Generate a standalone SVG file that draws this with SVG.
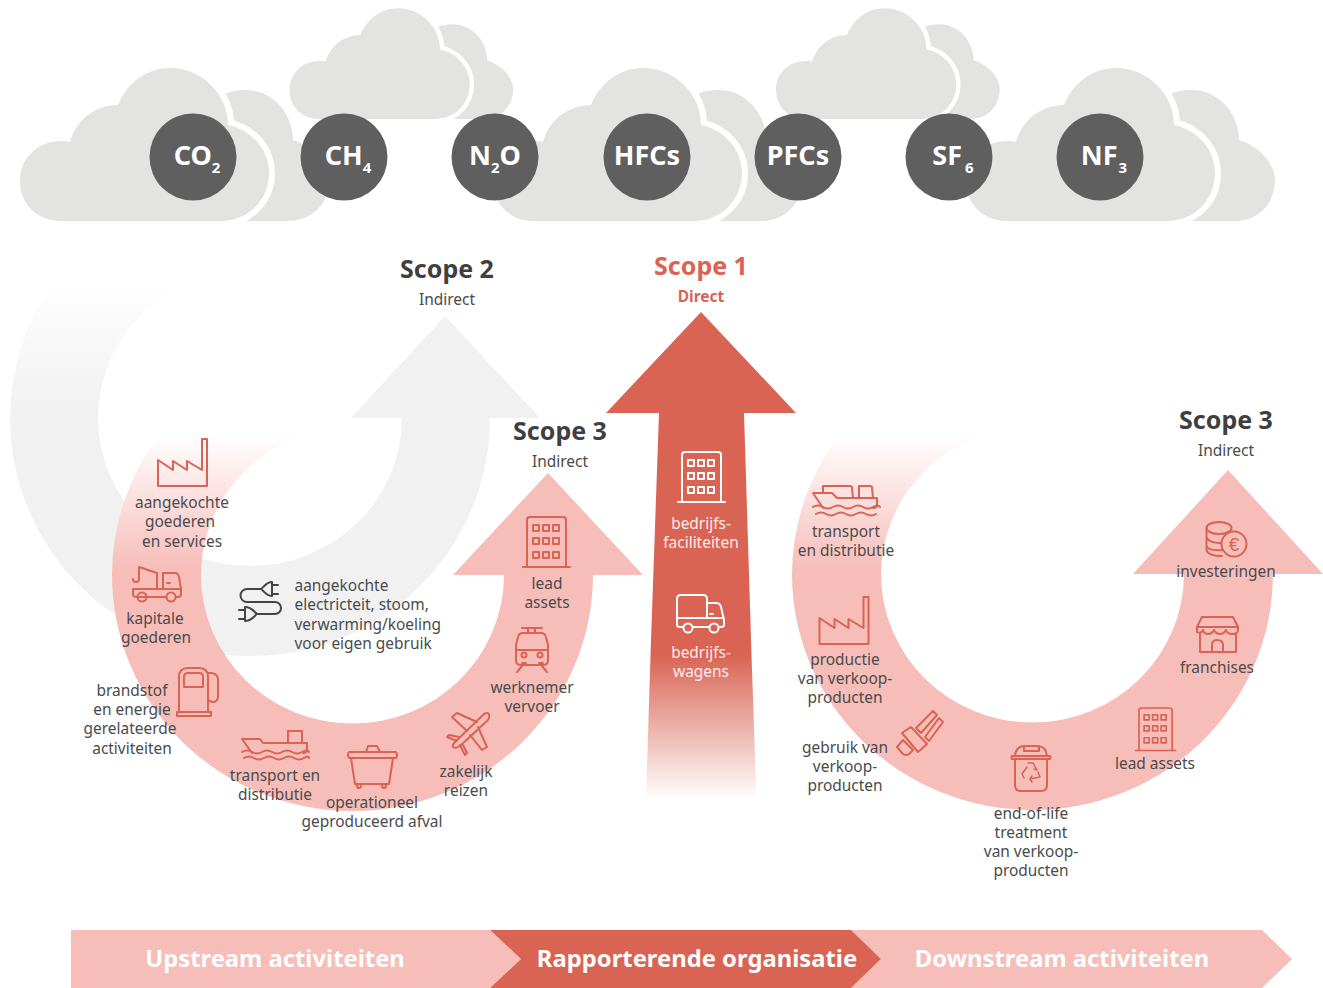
<svg xmlns="http://www.w3.org/2000/svg" xmlns:xlink="http://www.w3.org/1999/xlink" width="1323" height="988" viewBox="0 0 1323 988">
<style>
text{font-family:"Noto Sans","Open Sans","Liberation Sans",sans-serif}
.l{font-size:15.45px;fill:#4b4b4b;text-anchor:middle}
.ls{text-anchor:start}
.w{font-size:15.45px;fill:#fdecea;text-anchor:middle}
.h{font-size:25px;font-weight:700;fill:#3f3f3f;text-anchor:middle}
.sub{font-size:15.5px;fill:#4b4b4b;text-anchor:middle}
.gas{font-size:27px;font-weight:700;fill:#fff;text-anchor:middle}
.band{font-size:23.8px;font-weight:700;fill:#fff;text-anchor:middle}
.i{fill:none;stroke:#d96454;stroke-width:2;stroke-linejoin:round;stroke-linecap:round}
.iw{fill:none;stroke:#fff;stroke-width:2;stroke-linejoin:round;stroke-linecap:round}
.id{fill:none;stroke:#444;stroke-width:2;stroke-linejoin:round;stroke-linecap:round}
.cf{fill:#e3e3e2;stroke:#fff;stroke-width:12;paint-order:stroke}
.cb{fill:#e3e3e2}
.d{fill:#5f5f5f}
.p{fill:#f7bdb9}
.r{fill:#d96454}
</style>
<defs>
<linearGradient id="gGrey" gradientUnits="userSpaceOnUse" x1="0" y1="280" x2="0" y2="410"><stop offset="0" stop-color="#fff"/><stop offset="1" stop-color="#f1f1f1"/></linearGradient>
<linearGradient id="gPinkL" gradientUnits="userSpaceOnUse" x1="0" y1="435" x2="0" y2="570"><stop offset="0" stop-color="#fff"/><stop offset="1" stop-color="#f7bdb9"/></linearGradient>
<linearGradient id="gRed" gradientUnits="userSpaceOnUse" x1="0" y1="655" x2="0" y2="800"><stop offset="0" stop-color="#d96454"/><stop offset="1" stop-color="#fff"/></linearGradient>
<g id="cloud">
<path class="cb" d="M222,95C230,91 238,90 246,90C272,90 293,113 293,140C315,147 329,165 329,180C329,203 313,221 288,221L240,221Z"/>
<path class="cf" d="M61,221C37,221 20,204 20,181C20,158 38,141 61,141C64,141 67,141 70,142C76,120 95,105 118,105C127,83 146,68 170,68C202,68 228,94 228,125C252,130 269,150 269,173C269,200 248,221 221,221Z"/>
</g>
<g id="factory"><path d="M158,460L173,470V461L187,470V461L202,470V439H207V486H158Z"/></g>
<g id="building"><path d="M0,50V3Q0,0 3,0H36Q39,0 39,3V50M-4,50H43"/><path d="M6,8h6v6h-6zM16,8h6v6h-6zM26,8h6v6h-6zM6,21h6v6h-6zM16,21h6v6h-6zM26,21h6v6h-6zM6,35h6v6h-6zM16,35h6v6h-6zM26,35h6v6h-6z"/></g>
</defs>
<rect width="1323" height="988" fill="#fff"/>

<g id="clouds">
<use xlink:href="#cloud" href="#cloud"/>
<use xlink:href="#cloud" href="#cloud" transform="translate(275 -41) scale(.724)"/>
<use xlink:href="#cloud" href="#cloud" transform="translate(473 0)"/>
<use xlink:href="#cloud" href="#cloud" transform="translate(761.5 -41) scale(.724)"/>
<use xlink:href="#cloud" href="#cloud" transform="translate(946 0)"/>
</g>

<g id="gas-co2"><circle class="d" cx="193" cy="157" r="43.5"/><text class="gas" x="197" y="165">CO<tspan font-size="15" dy="8">2</tspan></text></g>
<g id="gas-ch4"><circle class="d" cx="344" cy="157" r="43.5"/><text class="gas" x="348" y="165">CH<tspan font-size="15" dy="8">4</tspan></text></g>
<g id="gas-n2o"><circle class="d" cx="495" cy="157" r="43.5"/><text class="gas" x="495" y="165">N<tspan font-size="15" dy="8">2</tspan><tspan dy="-8">O</tspan></text></g>
<g id="gas-hfcs"><circle class="d" cx="647" cy="157" r="43.5"/><text class="gas" x="647" y="165">HFCs</text></g>
<g id="gas-pfcs"><circle class="d" cx="798" cy="157" r="43.5"/><text class="gas" x="798" y="165">PFCs</text></g>
<g id="gas-sf6"><circle class="d" cx="949" cy="157" r="43.5"/><text class="gas" x="953" y="165">SF<tspan font-size="15" dy="8" dx="3">6</tspan></text></g>
<g id="gas-nf3"><circle class="d" cx="1100" cy="157" r="43.5"/><text class="gas" x="1104" y="165">NF<tspan font-size="15" dy="8" dx="1">3</tspan></text></g>

<g id="connectors">
<g id="arrow-scope2">
<path fill="url(#gGrey)" d="M10,418A240,238 0 0 1 55,280H195A152,148 0 0 0 98,418Z"/>
<path fill="#f1f1f1" d="M10,418A240,238 0 0 0 490,418H540L445,316L351,418H402A152,148 0 0 1 98,418Z"/>
</g>
<g id="arrow-scope3-up">
<path fill="url(#gPinkL)" d="M112,575A240.5,236 0 0 1 157.500,437H298A151,148 0 0 0 201,575Z"/>
<path class="p" d="M112,575A240.5,236 0 0 0 593,575H643L548,473L453,575H504A151,148 0 0 1 201,575Z"/>
</g>
<g id="arrow-scope1">
<path class="r" d="M701,312L796,413H744L751.500,655H650.500L659,413H606Z"/>
<path fill="url(#gRed)" d="M650.500,655H751.500L756.500,800H646Z"/>
</g>
<g id="arrow-scope3-down">
<path fill="url(#gPinkL)" d="M792,574A240.500,236 0 0 1 837.500,437H978A151,148 0 0 0 881,574Z"/>
<path class="p" d="M792,574A240.500,236 0 0 0 1273,574H1323L1228,470L1133,574H1184A151,148 0 0 1 881,574Z"/>
</g>
</g>

<g id="scope2-label"><text class="h" x="447" y="278">Scope 2</text><text class="sub" x="447" y="305">Indirect</text></g>
<g id="scope1-label"><text class="h" x="701" y="275" style="fill:#d96454">Scope 1</text><text class="sub" x="701" y="302" style="fill:#d96454;font-weight:700">Direct</text></g>
<g id="scope3-up-label"><text class="h" x="560" y="440">Scope 3</text><text class="sub" x="560" y="467">Indirect</text></g>
<g id="scope3-down-label"><text class="h" x="1226" y="429">Scope 3</text><text class="sub" x="1226" y="456">Indirect</text></g>

<g id="node-goederen"><use xlink:href="#factory" href="#factory" class="i"/>
<text class="l" x="182" y="508">aangekochte</text><text class="l" x="180" y="527">goederen</text><text class="l" x="182" y="547">en services</text></g>

<g id="node-kapitale"><g class="i"><path d="M147,597H137Q133,597 133,594V589H181V594Q181,597 178,597H176M166,597H147M157,589V573L139,567V579Q139,582 136,582Q133,582 133,579M163,589V573H175Q178,573 179,577L181,589"/><circle cx="142" cy="597" r="4.5"/><circle cx="171" cy="597" r="4.5"/><path d="M167,583h3"/></g>
<text class="l" x="155" y="624">kapitale</text><text class="l" x="156" y="643">goederen</text></g>

<g id="node-brandstof"><g class="i"><path d="M179,712V677Q179,668 188,668H199Q208,668 208,677V712M177,712H211V716H177ZM184,687V677Q184,673 188,673H199Q203,673 203,677V687ZM208,673H212Q218,674 218,680V696Q218,702 213,702Q209,702 208,699"/></g>
<text class="l" x="132" y="696">brandstof</text><text class="l" x="132" y="715">en energie</text><text class="l" x="130" y="734">gerelateerde</text><text class="l" x="132" y="754">activiteiten</text></g>

<g id="node-transport-up"><g class="i"><path d="M252,753L242,739H260L263,743H307V750Q307,753 303,753M288,743V731H302V743"/><path d="M242,752Q247,749 252,752T262,752T272,752T282,752T292,752T302,752T309,752M244,758Q249,755 254,758T264,758T274,758T284,758T294,758T304,758T309,758"/></g>
<text class="l" x="275" y="781">transport en</text><text class="l" x="275" y="800">distributie</text></g>

<g id="node-afval"><g class="i"><path d="M349,752H396Q398,755 396,758H349Q347,755 349,752ZM366,752L368,746H377L380,752M351,758L355,784H389L393,758"/><circle cx="359" cy="786" r="2"/><circle cx="384" cy="786" r="2"/></g>
<text class="l" x="372" y="808">operationeel</text><text class="l" x="372" y="827">geproduceerd afval</text></g>

<g id="node-reizen"><g class="i"><path d="M455,742L484,714Q488,712 489,714Q490,717 488,720L460,746Q455,749 453,747Q452,745 455,742ZM467,731L452,717L457,713L477,722M478,727L487,747L482,750L470,735M457,741L447,737L449,735L459,737M460,745L465,755L467,753L463,745"/></g>
<text class="l" x="466" y="777">zakelijk</text><text class="l" x="466" y="796">reizen</text></g>

<g id="node-vervoer"><g class="i"><path d="M516,645L518,637Q519,633 523,633H541Q545,633 546,637L548,645V660Q548,665 543,665H521Q516,665 516,660ZM516,650H548M522,628H542M528,628V633M535,628V633M522,666L517,672M542,666L547,672M522,663h4M539,663h4"/><circle cx="524" cy="655" r="2.5"/><circle cx="540" cy="655" r="2.5"/></g>
<text class="l" x="532" y="693">werknemer</text><text class="l" x="532" y="712">vervoer</text></g>

<g id="node-lead-up"><use xlink:href="#building" href="#building" class="i" transform="translate(527 517)"/>
<text class="l" x="547" y="589">lead</text><text class="l" x="547" y="608">assets</text></g>

<g id="node-elektriciteit"><g class="id"><path d="M261,589H247A6.500,6.500 0 0 0 247,602H275A6,6 0 0 1 275,614H257M272,582V596M272,582C266,582 264,587 261,589C264,591 266,596 272,596M272,585H278M272,594H278M245,607V621M245,607C252,607 254,612 257,614C254,616 252,621 245,621M245,610H239M245,619H239"/></g>
<text class="l ls" x="294.500" y="591">aangekochte</text><text class="l ls" x="294.500" y="610">electricteit, stoom,</text><text class="l ls" x="294.500" y="630">verwarming/koeling</text><text class="l ls" x="294.500" y="649">voor eigen gebruik</text></g>

<g id="node-faciliteiten"><use xlink:href="#building" href="#building" class="iw" transform="translate(682 452)"/>
<text class="w" x="701" y="529">bedrijfs-</text><text class="w" x="701" y="548">faciliteiten</text></g>

<g id="node-wagens"><g class="iw"><path d="M677,618V599Q677,595 681,595H703Q707,595 707,599V618M707,603H716Q720,603 721,607L724,620V625Q724,627 721,627H720M677,618H724M677,618V625Q677,627 680,627H683M693,627H709M710,614h3"/><circle cx="688" cy="628" r="4.500"/><circle cx="714" cy="628" r="4.500"/></g>
<text class="w" x="701" y="658">bedrijfs-</text><text class="w" x="701" y="677">wagens</text></g>

<g id="node-transport-down"><g class="i"><path d="M823,508L813,493H832L837,498H877V505Q877,508 873,508M823,493V486H850Q852,486 852,488L853,498M859,498V486H870Q872,486 872,488L873,498"/><path d="M813,507Q818,504 823,507T833,507T843,507T853,507T863,507T873,507T880,507M816,514Q821,511 826,514T836,514T846,514T856,514T866,514T876,514"/></g>
<text class="l" x="846" y="537">transport</text><text class="l" x="846" y="556">en distributie</text></g>

<g id="node-productie"><use xlink:href="#factory" href="#factory" class="i" transform="translate(661.500 158)"/>
<text class="l" x="845" y="665">productie</text><text class="l" x="845" y="684">van verkoop-</text><text class="l" x="845" y="703">producten</text></g>

<g id="node-gebruik"><g class="i"><path d="M902,733L911,727L927,744L918,752ZM916,728L933,711L937,715L921,733ZM925,737L939,718L943,722L929,741ZM897,747L903,740L913,750L909,754Q906,756 903,754Z"/></g>
<text class="l" x="845" y="753">gebruik van</text><text class="l" x="845" y="772">verkoop-</text><text class="l" x="845" y="791">producten</text></g>

<g id="node-eol"><g class="i"><path d="M1015,759V785Q1015,791 1021,791H1041Q1047,791 1047,785V759M1012,759Q1011,757 1012,756H1050Q1051,757 1050,759ZM1015,756Q1016,746 1025,746H1037Q1046,746 1047,756M1024,746V751H1039V746"/><path stroke-width="1.500" d="M1024,778L1022,774L1027,767M1033,763L1037,770L1034,769M1038,772L1040,777L1030,779L1032,776M1030,779L1032,782M1028,763L1033,763"/></g>
<text class="l" x="1031" y="819">end-of-life</text><text class="l" x="1031" y="838">treatment</text><text class="l" x="1031" y="857">van verkoop-</text><text class="l" x="1031" y="876">producten</text></g>

<g id="node-lead-down"><use xlink:href="#building" href="#building" class="i" transform="translate(1139 708) scale(.85)"/>
<text class="l" x="1155" y="769">lead assets</text></g>

<g id="node-franchises"><g class="i"><path d="M1202,617H1233L1238,627V630Q1238,634 1232,634Q1227,634 1226,630Q1224,634 1220,634Q1216,634 1214,630Q1212,634 1208,634Q1204,634 1203,630Q1201,634 1197,632V627ZM1197,627H1238M1200,634V652H1236V634M1212,652V645Q1212,640 1217,640Q1223,640 1223,645V652"/></g>
<text class="l" x="1217" y="673">franchises</text></g>

<g id="node-investeringen"><g class="i"><ellipse cx="1219" cy="528" rx="12.500" ry="6"/><path d="M1206.500,528V550Q1208,556 1222,556M1206.500,537Q1208,543 1222,543M1206.500,546Q1208,551 1222,550"/><circle cx="1234" cy="544" r="12.500" fill="#f7bdb9"/></g><text x="1234" y="551" text-anchor="middle" font-size="19" fill="#d96454" style="font-family:'Liberation Sans',sans-serif">€</text>
<text class="l" x="1226" y="577">investeringen</text></g>

<g id="band">
<path class="p" d="M71,930H490L521,959L490,988H71Z" id="band-up"/>
<path class="p" d="M851,930H1262L1292,959L1262,988H851L881,959Z" id="band-down"/>
<path class="r" d="M490,930H851L881,959L851,988H490L521,959Z" id="band-mid"/>
<text class="band" x="275" y="967">Upstream activiteiten</text>
<text class="band" x="697" y="967">Rapporterende organisatie</text>
<text class="band" x="1062" y="967">Downstream activiteiten</text>
</g>
</svg>
